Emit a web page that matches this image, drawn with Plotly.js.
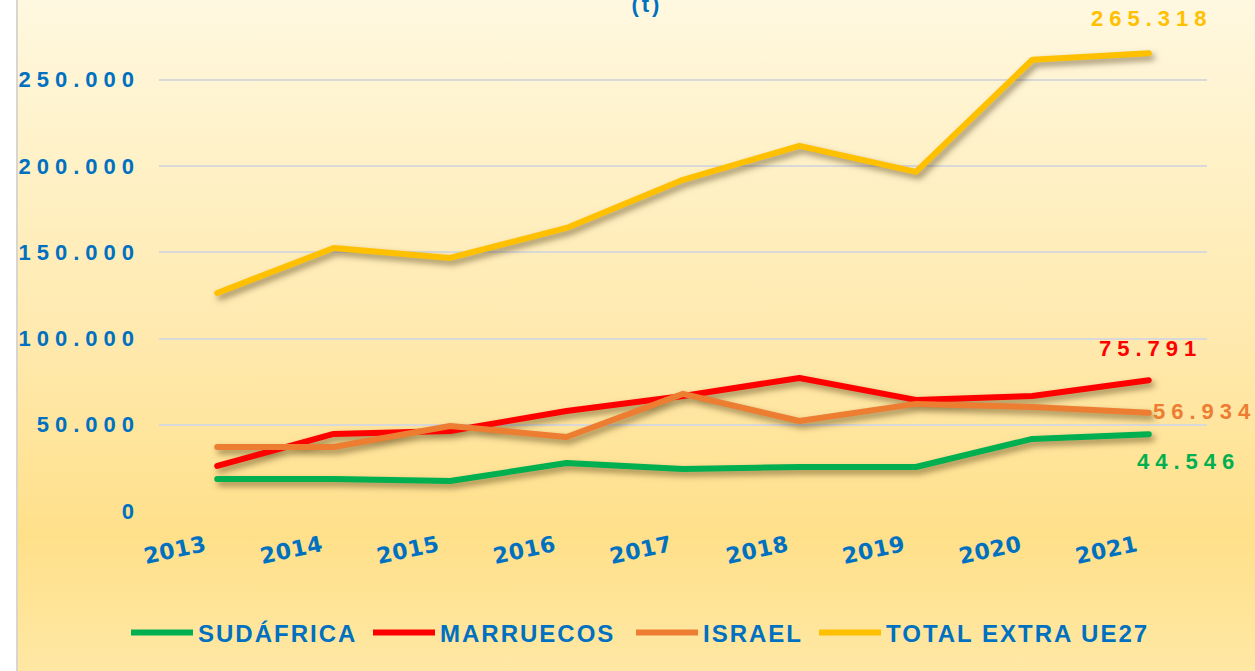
<!DOCTYPE html>
<html>
<head>
<meta charset="utf-8">
<script src="https://cdn.plot.ly/plotly-3.0.1.min.js"></script>
<style>
  html, body { margin: 0; padding: 0; background: #ffffff; overflow: hidden; }
  #bg { position: absolute; left: 16px; top: 0; width: 1239px; height: 671px;
        border-left: 2px solid #d9d6cf;
        background: linear-gradient(to bottom, #FFF8E0 0%, #FFF1C6 25%, #FFE9AE 50%, #FFE08A 80%, #FFE8A4 100%); }
  #chart { position: absolute; left: 0; top: 0; width: 1255px; height: 671px; }
  #chart .scatterlayer { filter: drop-shadow(3px 4px 3px rgba(60,40,0,0.5)); }
  #chart .scatterlayer path.js-line { stroke-linecap: round; stroke-linejoin: round; }
  .ytick text { letter-spacing: 6px; }
  .xtick text { letter-spacing: 0.5px; }
  .annotation-text { letter-spacing: 6px; }
  .legendtext { letter-spacing: 2px; }
  .gtitle { letter-spacing: 3px; }
</style>
</head>
<body>
<div id="bg"></div>
<div id="chart"></div>
<script>
const years = ['2013','2014','2015','2016','2017','2018','2019','2020','2021'];
const sudafrica = [18600, 18600, 17400, 27800, 24400, 25500, 25500, 41800, 44546];
const marruecos = [26100, 44700, 46400, 58000, 66700, 77100, 64400, 66700, 75791];
const israel    = [37100, 37100, 49300, 42900, 67900, 52200, 62100, 60300, 56934];
const totalExtra = [126400, 152500, 146700, 164100, 192000, 211700, 196600, 261600, 265318];
const yTicks = [0, 50000, 100000, 150000, 200000, 250000];
const seriesNames = ['SUDÁFRICA', 'MARRUECOS', 'ISRAEL', 'TOTAL EXTRA UE27'];

const colors = ['#00B050', '#FF0000', '#ED7D31', '#FFC000'];
const seriesData = [sudafrica, marruecos, israel, totalExtra];
const legendWidths = [165, 186, 106, 258];
const blue = '#0070C0';

const traces = seriesData.map((vals, i) => ({
  type: 'scatter', mode: 'lines', x: years, y: vals, name: seriesNames[i],
  legendwidth: legendWidths[i],
  line: { color: colors[i], width: 6 }, hoverinfo: 'x+y'
}));

const fmt = v => v.toLocaleString('de-DE');
const last = years.length - 1;
const labelPos = [
  { xshift: 40, yshift: -27, xanchor: 'center' },
  { xshift: 2, yshift: 32, xanchor: 'center' },
  { xshift: 2, yshift: 1, xanchor: 'left' },
  { xshift: 3, yshift: 35, xanchor: 'center' }
];
const annotations = seriesData.map((vals, i) => ({
  x: last, y: vals[last], xref: 'x', yref: 'y',
  text: fmt(vals[last]), showarrow: false,
  xanchor: labelPos[i].xanchor, yanchor: 'middle',
  xshift: labelPos[i].xshift, yshift: labelPos[i].yshift,
  font: { family: 'Liberation Sans, Arial, sans-serif', size: 22, color: colors[i], weight: 'bold' }
}));

const layout = {
  width: 1255, height: 671,
  paper_bgcolor: 'rgba(0,0,0,0)', plot_bgcolor: 'rgba(0,0,0,0)',
  margin: { l: 159, r: 48, t: 28, b: 160 },
  separators: ',.',
  title: { text: '(t)', x: 0.5155, xref: 'container', xanchor: 'center',
           y: 0.993, yref: 'container', yanchor: 'middle',
           font: { family: 'Liberation Sans, Arial, sans-serif', size: 22, color: blue, weight: 'bold' } },
  xaxis: {
    type: 'category', range: [-0.5, 8.5], showgrid: false, zeroline: false, showline: false,
    ticks: '', tickangle: -12, ticklabelstandoff: 17, ticklabelshift: -12,
    tickfont: { family: 'DejaVu Sans, Verdana, sans-serif', size: 22, color: blue, weight: 'bold' }
  },
  yaxis: {
    range: [0, 280000], tickvals: yTicks, tickformat: ',d',
    showgrid: true, gridcolor: '#D9D9D9', gridwidth: 2, zeroline: false, showline: false,
    ticks: '', ticklabelstandoff: 18,
    tickfont: { family: 'Liberation Sans, Arial, sans-serif', size: 22, color: blue, weight: 'bold' }
  },
  showlegend: true,
  legend: {
    orientation: 'h', x: 0.1004, xref: 'container', xanchor: 'left', yref: 'container', yanchor: 'middle',
    bgcolor: 'rgba(0,0,0,0)', itemwidth: 62,
    font: { family: 'Liberation Sans, Arial, sans-serif', size: 24, color: blue, weight: 'bold' }
  },
  annotations: annotations
};
layout.legend.y = 1 - 633/671;

Plotly.newPlot('chart', traces, layout, { displayModeBar: false, staticPlot: true });
</script>
</body>
</html>
